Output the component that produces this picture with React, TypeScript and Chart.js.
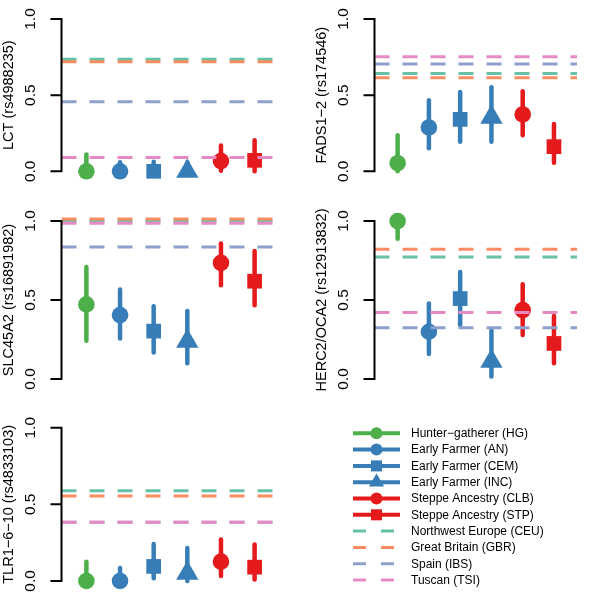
import React, { useEffect, useRef } from "react";
import { Chart, registerables } from "chart.js";

Chart.register(...registerables);

// ---------- data ----------
const groupNames = [
  "Hunter−gatherer (HG)",
  "Early Farmer (AN)",
  "Early Farmer (CEM)",
  "Early Farmer (INC)",
  "Steppe Ancestry (CLB)",
  "Steppe Ancestry (STP)",
];
const groupPositions = [1, 2, 3, 4, 5, 6];
const referenceNames = [
  "Northwest Europe (CEU)",
  "Great Britain (GBR)",
  "Spain (IBS)",
  "Tuscan (TSI)",
];
const yTickValues = [0, 0.5, 1];
const yTickLabels = ["0.0", "0.5", "1.0"];

// LCT (rs4988235)
const lctEstimate = [0.0, 0.0, 0.0, 0.0, 0.067, 0.072];
const lctLower = [0.0, 0.0, 0.0, 0.0, 0.004, 0.0];
const lctUpper = [0.11, 0.06, 0.063, 0.06, 0.17, 0.204];
const lctReference = [0.736, 0.719, 0.457, 0.09]; // CEU, GBR, IBS, TSI

// FADS1−2 (rs174546)
const fadsEstimate = [0.053, 0.288, 0.341, 0.355, 0.373, 0.162];
const fadsLower = [0.0, 0.152, 0.194, 0.194, 0.236, 0.057];
const fadsUpper = [0.236, 0.467, 0.52, 0.552, 0.526, 0.31];
const fadsReference = [0.642, 0.615, 0.705, 0.752];

// SLC45A2 (rs16891982)
const slcEstimate = [0.472, 0.404, 0.303, 0.238, 0.735, 0.619];
const slcLower = [0.242, 0.257, 0.168, 0.099, 0.594, 0.467];
const slcUpper = [0.709, 0.566, 0.461, 0.43, 0.857, 0.81];
const slcReference = [1.0, 1.012, 0.836, 0.986];

// HERC2/OCA2 (rs12913832)
const hercEstimate = [1.0, 0.299, 0.509, 0.112, 0.436, 0.225];
const hercLower = [0.888, 0.158, 0.341, 0.015, 0.278, 0.099];
const hercUpper = [1.0, 0.478, 0.678, 0.309, 0.6, 0.398];
const hercReference = [0.773, 0.821, 0.324, 0.421];

// TLR1−6−10 (rs4833103)
const tlrEstimate = [0.0, 0.0, 0.095, 0.05, 0.126, 0.09];
const tlrLower = [0.0, 0.0, 0.017, 0.0, 0.032, 0.01];
const tlrUpper = [0.126, 0.084, 0.242, 0.215, 0.27, 0.238];
const tlrReference = [0.589, 0.554, 0.383, 0.383];

// ---------- styles ----------
const groupColors = ["#4DAF4A", "#377EB8", "#377EB8", "#377EB8", "#E41A1C", "#E41A1C"];
const groupShapes = ["circle", "circle", "rect", "triangle", "circle", "rect"];
const shapeRadius: Record<string, number> = { circle: 8.3, rect: 10.4, triangle: 12.9 };
const legendShapeRadius: Record<string, number> = { circle: 6, rect: 7.8, triangle: 8.8 };
const referenceColors = ["#66C2A5", "#FC8D62", "#8DA0CB", "#E78AC3"];
const referenceDrawOrder = [3, 2, 1, 0]; // TSI on top
const FONT = "'Liberation Sans', Arial, Helvetica, sans-serif";
const X_MIN = 0.26;
const X_MAX = 6.74;
const Y_MIN = -0.04;
const Y_MAX = 1.04;

function drawShape(ctx: CanvasRenderingContext2D, shape: string, x: number, y: number, r: number) {
  ctx.beginPath();
  if (shape === "circle") {
    ctx.arc(x, y, r, 0, Math.PI * 2);
  } else if (shape === "rect") {
    const s = Math.SQRT1_2 * r;
    ctx.rect(x - s, y - s, 2 * s, 2 * s);
  } else {
    let a = 0;
    ctx.moveTo(x + Math.sin(a) * r, y - Math.cos(a) * r);
    a += (2 * Math.PI) / 3;
    ctx.lineTo(x + Math.sin(a) * r, y - Math.cos(a) * r);
    a += (2 * Math.PI) / 3;
    ctx.lineTo(x + Math.sin(a) * r, y - Math.cos(a) * r);
    ctx.closePath();
  }
  ctx.fill();
}

const rAxisPlugin = {
  id: "rAxis",
  afterDraw(chart: any, _args: any, opts: any) {
    const { ctx, chartArea } = chart;
    const ys = chart.scales.y;
    const x0 = chartArea.left;
    ctx.save();
    ctx.strokeStyle = "#000";
    ctx.lineWidth = 2;
    ctx.lineCap = "square";
    ctx.beginPath();
    ctx.moveTo(x0, ys.getPixelForValue(yTickValues[0]));
    ctx.lineTo(x0, ys.getPixelForValue(yTickValues[yTickValues.length - 1]));
    for (const v of yTickValues) {
      const py = ys.getPixelForValue(v);
      ctx.moveTo(x0, py);
      ctx.lineTo(x0 - 10, py);
    }
    ctx.stroke();
    ctx.fillStyle = "#000";
    ctx.textAlign = "center";
    ctx.textBaseline = "middle";
    ctx.font = `15.5px ${FONT}`;
    yTickValues.forEach((v, i) => {
      const py = ys.getPixelForValue(v);
      ctx.save();
      ctx.translate(x0 - 31, py);
      ctx.rotate(-Math.PI / 2);
      ctx.fillText(yTickLabels[i], 0, 0);
      ctx.restore();
    });
    ctx.font = `14.5px ${FONT}`;
    const midY = (chartArea.top + chartArea.bottom) / 2;
    ctx.save();
    ctx.translate(x0 - 53, midY);
    ctx.rotate(-Math.PI / 2);
    ctx.fillText(opts.title, 0, 0);
    ctx.restore();

    if (opts.legend) {
      const ox = opts.legend.x;
      const oy = opts.legend.y;
      const rowH = 16.3;
      const lineX0 = ox;
      const lineX1 = ox + 47;
      const textX = ox + 58;
      ctx.font = `12px ${FONT}`;
      ctx.textAlign = "left";
      ctx.textBaseline = "middle";
      groupNames.forEach((name, i) => {
        const yy = oy + i * rowH;
        ctx.strokeStyle = groupColors[i];
        ctx.fillStyle = groupColors[i];
        ctx.lineWidth = 4;
        ctx.lineCap = "butt";
        ctx.setLineDash([]);
        ctx.beginPath();
        ctx.moveTo(lineX0, yy);
        ctx.lineTo(lineX1, yy);
        ctx.stroke();
        drawShape(ctx, groupShapes[i], (lineX0 + lineX1) / 2, yy, legendShapeRadius[groupShapes[i]]);
        ctx.fillStyle = "#000";
        ctx.fillText(name, textX, yy + 0.5);
      });
      referenceNames.forEach((name, j) => {
        const yy = oy + (groupNames.length + j) * rowH;
        ctx.strokeStyle = referenceColors[j];
        ctx.lineWidth = 3;
        ctx.lineCap = "butt";
        ctx.setLineDash([13, 15]);
        ctx.beginPath();
        ctx.moveTo(lineX0, yy);
        ctx.lineTo(lineX1, yy);
        ctx.stroke();
        ctx.setLineDash([]);
        ctx.fillStyle = "#000";
        ctx.fillText(name, textX, yy + 0.5);
      });
    }
    ctx.restore();
  },
};

type PanelProps = {
  title: string;
  estimate: number[];
  lower: number[];
  upper: number[];
  reference: number[];
  left: number;
  top: number;
  width: number;
  height: number;
  padding: { left: number; right: number; top: number; bottom: number };
  legend?: { x: number; y: number };
};

function Panel(p: PanelProps) {
  const ref = useRef<HTMLCanvasElement | null>(null);
  useEffect(() => {
    if (!ref.current) return;
    const datasets: any[] = [];
    referenceDrawOrder.forEach((j, k) => {
      datasets.push({
        type: "line",
        label: referenceNames[j],
        data: [
          { x: X_MIN, y: p.reference[j] },
          { x: X_MAX, y: p.reference[j] },
        ],
        borderColor: referenceColors[j],
        borderWidth: 3,
        borderDash: [15, 13],
        borderCapStyle: "butt",
        pointRadius: 0,
        order: k * 0.01,
      });
    });
    groupPositions.forEach((gx, i) => {
      datasets.push({
        type: "line",
        label: groupNames[i] + " marker",
        data: [{ x: gx, y: p.estimate[i] }],
        showLine: false,
        pointStyle: groupShapes[i],
        pointRadius: shapeRadius[groupShapes[i]],
        pointBackgroundColor: groupColors[i],
        pointBorderWidth: 0,
        borderWidth: 0,
        clip: false,
        order: 1,
      });
      datasets.push({
        type: "line",
        label: groupNames[i] + " interval",
        data: [
          { x: gx, y: p.lower[i] },
          { x: gx, y: p.upper[i] },
        ],
        borderColor: groupColors[i],
        borderWidth: 4.5,
        borderCapStyle: "round",
        pointRadius: 0,
        clip: false,
        order: 2,
      });
    });
    const chart = new Chart(ref.current, {
      type: "line",
      data: { datasets },
      options: {
        animation: false,
        responsive: false,
        events: [],
        layout: { padding: p.padding },
        scales: {
          x: { type: "linear", min: X_MIN, max: X_MAX, display: false },
          y: { type: "linear", min: Y_MIN, max: Y_MAX, display: false },
        },
        plugins: {
          legend: { display: false },
          tooltip: { enabled: false },
          rAxis: { title: p.title, legend: p.legend },
        } as any,
      },
      plugins: [rAxisPlugin],
    });
    return () => chart.destroy();
  }, []);
  return (
    <canvas
      ref={ref}
      width={p.width}
      height={p.height}
      style={{ position: "absolute", left: p.left, top: p.top, width: p.width, height: p.height }}
    />
  );
}

export default function App() {
  return (
    <div
      style={{
        position: "absolute",
        left: 0,
        top: 0,
        width: 590,
        height: 600,
        background: "#fff",
        overflow: "hidden",
      }}
    >
      <Panel
        title="LCT (rs4988235)"
        estimate={lctEstimate}
        lower={lctLower}
        upper={lctUpper}
        reference={lctReference}
        left={0}
        top={0}
        width={295}
        height={200}
        padding={{ left: 61.5, right: 15.5, top: 5.6, bottom: 22.6 }}
      />
      <Panel
        title="FADS1−2 (rs174546)"
        estimate={fadsEstimate}
        lower={fadsLower}
        upper={fadsUpper}
        reference={fadsReference}
        left={295}
        top={0}
        width={295}
        height={200}
        padding={{ left: 79.5, right: 0, top: 5.6, bottom: 22.6 }}
      />
      <Panel
        title="SLC45A2 (rs16891982)"
        estimate={slcEstimate}
        lower={slcLower}
        upper={slcUpper}
        reference={slcReference}
        left={0}
        top={200}
        width={295}
        height={200}
        padding={{ left: 61.5, right: 15.5, top: 14.7, bottom: 14.7 }}
      />
      <Panel
        title="HERC2/OCA2 (rs12913832)"
        estimate={hercEstimate}
        lower={hercLower}
        upper={hercUpper}
        reference={hercReference}
        left={295}
        top={200}
        width={295}
        height={200}
        padding={{ left: 79.5, right: 0, top: 14.7, bottom: 14.7 }}
      />
      <Panel
        title="TLR1−6−10 (rs4833103)"
        estimate={tlrEstimate}
        lower={tlrLower}
        upper={tlrUpper}
        reference={tlrReference}
        left={0}
        top={400}
        width={590}
        height={200}
        padding={{ left: 61.5, right: 310.5, top: 21.6, bottom: 6.6 }}
        legend={{ x: 353, y: 33.3 }}
      />
    </div>
  );
}
